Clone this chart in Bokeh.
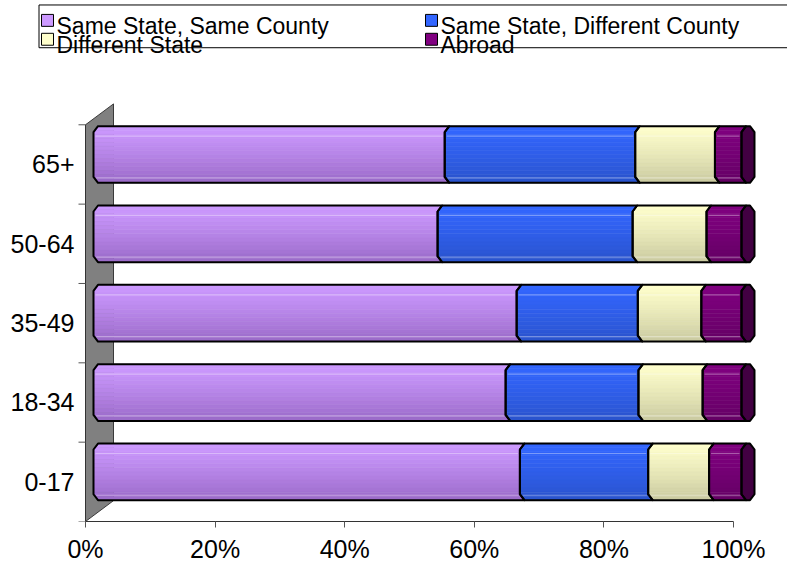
import numpy as np
from bokeh.plotting import figure
from bokeh.models import Range1d, FixedTicker, ColumnDataSource
from bokeh.embed import file_html
from bokeh.resources import INLINE
from bokeh.core.properties import value

# ---- data -------------------------------------------------------------
categories = ["0-17", "18-34", "35-49", "50-64", "65+"]
same_county = [65.8, 63.6, 65.3, 53.1, 54.2]
diff_county = [19.8, 20.5, 18.7, 30.1, 29.4]
diff_state = [9.4, 9.9, 9.8, 11.4, 12.3]
abroad = [5.0, 6.0, 6.2, 5.4, 4.1]

series_names = ["Same State, Same County", "Same State, Different County",
                "Different State", "Abroad"]
series_top = ["#cc99ff", "#3366ff", "#ffffcc", "#800080"]
series_bottom = ["#9a6ac8", "#2a53cc", "#cacaa0", "#640064"]
series_swatch = ["#cc99ff", "#3366ff", "#ffffcc", "#800080"]
cap_color = "#420042"

x_ticks = [0, 20, 40, 60, 80, 100]
x_tick_labels = ["0%", "20%", "40%", "60%", "80%", "100%"]

FONT = "Liberation Sans"

# ---- canvas / scale -----------------------------------------------------
W, H = 787, 565
AXIS_PX = 85          # pixel column of the value 0
BASE_PY = 524         # pixel row of the category axis origin
PX_X = 6.48           # pixels per percent
PX_Y = 79.8           # pixels per category band


def px2x(px):
    return (px - AXIS_PX) / PX_X


def py2y(py):
    return (BASE_PY - py) / PX_Y


# ---- geometry of the pseudo-3D bars (data units) ------------------------
BAR_DX = 12.5 / PX_X
BAR_DY = 10.0 / PX_Y
BAR_HALF = 28.5 / PX_Y
BULGE = 4.5 / PX_X
CORNER = 6.0 / PX_Y
CAP_W = 4.0 / PX_X
WALL_DX = 28.0 / PX_X
WALL_DY = 21.0 / PX_Y
N_STRIPS = 14


def hex_to_rgb(h):
    h = h.lstrip("#")
    return np.array([int(h[i:i + 2], 16) for i in (0, 2, 4)], dtype=float)


def rgb_to_hex(c):
    c = np.clip(np.round(c), 0, 255).astype(int)
    return "#%02x%02x%02x" % tuple(c)


def mix(c1, c2, t):
    return rgb_to_hex(hex_to_rgb(c1) * (1 - t) + hex_to_rgb(c2) * t)


def edge_x(base, y, top, bot):
    """x of a prism boundary at height y (bulges to the left in the middle)."""
    if y >= top - CORNER:
        return base - BULGE * (top - y) / CORNER
    if y <= bot + CORNER:
        return base - BULGE * (y - bot) / CORNER
    return base - BULGE


def band_polygon(a, b, y_hi, y_lo, top, bot, right_sign=1.0, right_extra=0.0):
    breaks = [y for y in (top - CORNER, bot + CORNER) if y_lo < y < y_hi]
    levels = [y_hi] + sorted(breaks, reverse=True) + [y_lo]
    left = [(edge_x(a, y, top, bot), y) for y in levels]
    right = []
    for y in reversed(levels):
        off = edge_x(0.0, y, top, bot)
        right.append((b + right_extra + right_sign * off, y))
    pts = left + right
    return [p[0] for p in pts], [p[1] for p in pts]


strip_xs, strip_ys, strip_col = [], [], []
out_xs, out_ys = [], []
cap_xs, cap_ys = [], []
hl_x0, hl_x1, hl_y, hl_col = [], [], [], []

values = np.array([same_county, diff_county, diff_state, abroad])
n_cat = len(categories)
for i in range(n_cat):
    yc = i + 0.5 + BAR_DY
    top, bot = yc + BAR_HALF, yc - BAR_HALF
    cum = np.concatenate([[0.0], np.cumsum(values[:, i])])
    for s in range(len(series_names)):
        a, b = cum[s] + BAR_DX, cum[s + 1] + BAR_DX
        levels = np.linspace(top, bot, N_STRIPS + 1)
        for k in range(N_STRIPS):
            t = (k + 0.5) / N_STRIPS
            xs, ys = band_polygon(a, b, levels[k], levels[k + 1], top, bot)
            strip_xs.append(xs)
            strip_ys.append(ys)
            strip_col.append(mix(series_top[s], series_bottom[s], t ** 1.2))
        # faint highlight lines along the prism edges
        for dy_px, t in ((10.0, 0.15), (-5.0, 0.9)):
            y = top - dy_px / PX_Y if dy_px > 0 else bot - dy_px / PX_Y
            hl_x0.append(edge_x(a, y, top, bot) + 0.3)
            hl_x1.append(edge_x(b, y, top, bot) - 0.3)
            hl_y.append(y)
            base = mix(series_top[s], series_bottom[s], t)
            hl_col.append(mix(base, "#ffffff", 0.35))
        xs, ys = band_polygon(a, b, top, bot, top, bot)
        out_xs.append(xs)
        out_ys.append(ys)
    # end cap of the bar
    b = cum[-1] + BAR_DX
    xs, ys = band_polygon(b, b, top, bot, top, bot, right_sign=-1.0, right_extra=CAP_W)
    cap_xs.append(xs)
    cap_ys.append(ys)

# ---- figure -------------------------------------------------------------
BOTTOM = H - BASE_PY
p = figure(width=W, height=H, output_backend="svg", toolbar_location=None,
           x_range=Range1d(px2x(0), px2x(W)), y_range=Range1d(0, py2y(0)),
           y_axis_location=None,
           min_border_left=0, min_border_right=0, min_border_top=0,
           min_border_bottom=BOTTOM)
p.outline_line_color = None
p.xgrid.visible = False
p.ygrid.visible = False
p.background_fill_color = "white"

# side wall
p.patch([0, 0, WALL_DX, WALL_DX], [0, n_cat, n_cat + WALL_DY, WALL_DY],
        fill_color="#808080", line_color="#3a3a3a", line_width=1)

# category axis: line, separators and labels
p.segment(x0=[0], y0=[0], x1=[0], y1=[n_cat], line_color="#333333", line_width=1)
sep = list(range(n_cat + 1))
p.segment(x0=[px2x(AXIS_PX - 7)] * len(sep), y0=sep, x1=[0] * len(sep), y1=sep,
          line_color="#555555", line_width=1)
p.text(x=[px2x(AXIS_PX - 11)] * n_cat, y=[i + 0.5 for i in range(n_cat)],
       text=categories, text_font=value(FONT), text_font_size=value("25px"),
       text_align="right", text_baseline="middle", text_color="black")

# bars
p.patches("xs", "ys", source=ColumnDataSource(dict(xs=strip_xs, ys=strip_ys, c=strip_col)),
          fill_color="c", line_color="c", line_width=0.6)
p.segment(x0="x0", y0="y", x1="x1", y1="y",
          source=ColumnDataSource(dict(x0=hl_x0, x1=hl_x1, y=hl_y, c=hl_col)),
          line_color="c", line_width=1.2)
p.patches(cap_xs, cap_ys, fill_color=cap_color, line_color=None)
p.patches(out_xs + cap_xs, out_ys + cap_ys, fill_color=None, line_color="black",
          line_width=2, line_join="round")

# value axis
xa = p.xaxis[0]
xa.ticker = FixedTicker(ticks=x_ticks, minor_ticks=[])
xa.major_label_overrides = {t: lab for t, lab in zip(x_ticks, x_tick_labels)}
xa.bounds = (0, 100)
xa.axis_line_color = "#333333"
xa.major_tick_line_color = "#555555"
xa.major_tick_out = 6
xa.major_tick_in = 0
xa.major_label_standoff = 7
xa.major_label_text_font = FONT
xa.major_label_text_font_size = "25px"
xa.major_label_text_color = "black"

# ---- legend (drawn in the top strip of the canvas) -----------------------
LEG_FONT = "23px"
box_l, box_t, box_b = 38.5, 4.5, 47.5
p.quad(left=[px2x(box_l)], right=[px2x(W + 10)], top=[py2y(box_t)], bottom=[py2y(box_b)],
       fill_color="white", line_color="black", line_width=1)

col_px = [41, 425]
base_py = [26.0, 45.0]
sw = 12
sq_l, sq_r, sq_t, sq_b, tx, ty = [], [], [], [], [], []
for k in range(len(series_names)):
    cx = col_px[k % 2]
    by = base_py[k // 2]
    sq_l.append(px2x(cx))
    sq_r.append(px2x(cx + sw))
    sq_t.append(py2y(by - sw))
    sq_b.append(py2y(by))
    tx.append(px2x(cx + sw + 3))
    ty.append(py2y(by))
p.quad(left=sq_l, right=sq_r, top=sq_t, bottom=sq_b, fill_color=series_swatch,
       line_color="black", line_width=1)
p.text(x=tx, y=ty, text=series_names, text_font=value(FONT),
       text_font_size=value(LEG_FONT), text_baseline="alphabetic", text_align="left",
       text_color="black")

open("out.html", "w").write(file_html(p, INLINE))
